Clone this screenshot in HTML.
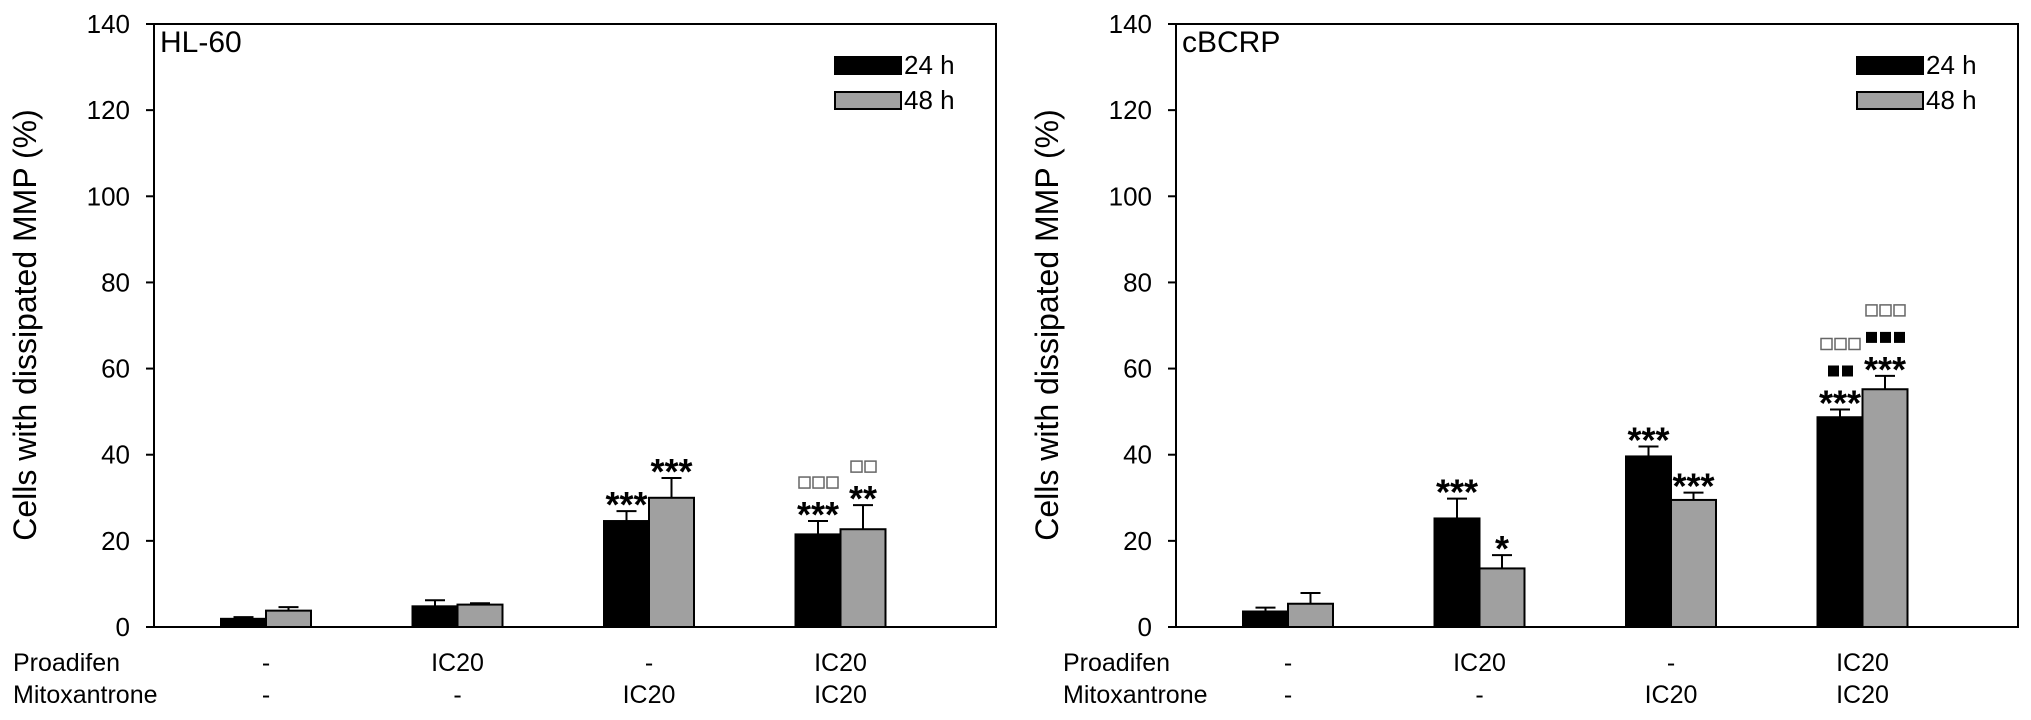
<!DOCTYPE html>
<html><head><meta charset="utf-8"><style>
html,body{margin:0;padding:0;background:#fff;}
svg text{font-family:"Liberation Sans",Arial,sans-serif;fill:#000;}
</style></head><body>
<svg id="fig" width="2031" height="715" viewBox="0 0 2031 715" xmlns="http://www.w3.org/2000/svg"></svg>
<script>
const categories = ["ctrl","proadifen","mitoxantrone","combo"];
const proadifenLabels = ["-","IC20","-","IC20"];
const mitoxLabels = ["-","-","IC20","IC20"];
const yTicks = [0,20,40,60,80,100,120,140];
const hl60_24 = [1.9,4.8,24.6,21.5];
const hl60_24err = [0.4,1.4,2.3,3.1];
const hl60_48 = [3.8,5.2,30.0,22.7];
const hl60_48err = [0.8,0.3,4.6,5.6];
const cbcrp_24 = [3.6,25.2,39.6,48.7];
const cbcrp_24err = [0.9,4.6,2.3,1.8];
const cbcrp_48 = [5.4,13.6,29.5,55.2];
const cbcrp_48err = [2.5,3.1,1.7,3.1];
const hl60_24stars = ["","","***","***"];
const hl60_48stars = ["","","***","**"];
const cbcrp_24stars = ["","***","***","***"];
const cbcrp_48stars = ["","*","***","***"];
// [filled squares count, hollow squares count]
const hl60_24sq = [[0,0],[0,0],[0,0],[0,3]];
const hl60_48sq = [[0,0],[0,0],[0,0],[0,2]];
const cbcrp_24sq = [[0,0],[0,0],[0,0],[2,3]];
const cbcrp_48sq = [[0,0],[0,0],[0,0],[3,3]];

const NS="http://www.w3.org/2000/svg";
const svg=document.getElementById('fig');
function mk(tag,attrs,parent){const e=document.createElementNS(NS,tag);for(const k in attrs)e.setAttribute(k,attrs[k]);(parent||svg).appendChild(e);return e;}

function drawPanel(o){
  const g=mk('g',{});
  
  
  const ax=o.ax, right=ax+842, y0=627, top=24;
  const yS=v=>y0-(v/140)*(y0-top);
  const xC=i=>ax+112+i*191.5;
  const bw=45;
  const frame=mk('rect',{x:ax,y:top,width:right-ax,height:y0-top,fill:'none',stroke:'#000','stroke-width':2},g);
  
  
  yTicks.forEach(t=>{
    const y=yS(t);
    const tk=mk('line',{x1:ax-8,x2:ax,y1:y,y2:y,stroke:'#000','stroke-width':2},g);
    
    
    const tl=mk('text',{x:ax-24,y:y+9,'text-anchor':'end','font-size':26},g);
    tl.textContent=t;
    
    
  });
  const yt=mk('text',{x:0,y:0,'text-anchor':'middle','font-size':32,transform:`translate(${o.titleX},325) rotate(-90)`},g);
  yt.textContent='Cells with dissipated MMP (%)';
  
  
  const pt=mk('text',{x:ax+6,y:52,'font-size':30},g);
  pt.textContent=o.title;
  
  
  [['#000','24 h',57],['#a0a0a0','48 h',92]].forEach(l=>{
    const sw=mk('rect',{x:right-161,y:l[2],width:66,height:17,fill:l[0],stroke:'#000','stroke-width':2},g);
    
    
    const lt=mk('text',{x:right-92,y:l[2]+17,'font-size':26},g);
    lt.textContent=l[1];
    
    
  });
  const series=[[o.s24,o.e24,'#000',-1,o.st24,o.sq24],[o.s48,o.e48,'#a0a0a0',0,o.st48,o.sq48]];
  categories.forEach((c,i)=>{
    series.forEach(s=>{
      const v=s[0][i], e=s[1][i];
      const x=xC(i)+s[3]*bw;
      const yv=yS(v), ye=yS(v+e), cx=x+bw/2;
      const b=mk('rect',{x:x,y:yv,width:bw,height:y0-yv,fill:s[2],stroke:'#000','stroke-width':2},g);
      
      
      const el=mk('path',{d:`M${cx},${yv}V${ye}M${cx-10},${ye}H${cx+10}`,stroke:'#000','stroke-width':2,fill:'none'},g);
      
      
      let yy=ye-14;
      if(s[4][i]){
        const st=mk('text',{x:cx,y:yy+20,'text-anchor':'middle','font-size':36,'font-weight':'bold'},g);
        st.textContent=s[4][i];
        
        
        yy-=24;
      }
      const [nf,nh]=s[5][i];
      if(nf){
        for(let k=0;k<nf;k++){
          const r=mk('rect',{x:cx-(nf*14-4)/2+k*14,y:yy-6,width:11,height:11,fill:'#000'},g);
          
          
        }
        yy-=27;
      }
      if(nh){
        for(let k=0;k<nh;k++){
          const r=mk('rect',{x:cx-(nh*14-4)/2+k*14,y:yy-6,width:11,height:11,fill:'none',stroke:'#666','stroke-width':1.5},g);
          
          
        }
      }
    });
    const l1=mk('text',{x:xC(i),y:671,'text-anchor':'middle','font-size':25},g);
    l1.textContent=proadifenLabels[i];
    
    
    const l2=mk('text',{x:xC(i),y:703,'text-anchor':'middle','font-size':25},g);
    l2.textContent=mitoxLabels[i];
    
    
  });
  const r1=mk('text',{x:o.rowX,y:671,'font-size':25},g);
  r1.textContent='Proadifen';
  
  
  const r2=mk('text',{x:o.rowX,y:703,'font-size':25},g);
  r2.textContent='Mitoxantrone';
  
  
}
drawPanel({name:'hl60',ax:154,title:'HL-60',titleX:36,rowX:13,s24:hl60_24,e24:hl60_24err,s48:hl60_48,e48:hl60_48err,st24:hl60_24stars,st48:hl60_48stars,sq24:hl60_24sq,sq48:hl60_48sq});
drawPanel({name:'cbcrp',ax:1176,title:'cBCRP',titleX:1058,rowX:1063,s24:cbcrp_24,e24:cbcrp_24err,s48:cbcrp_48,e48:cbcrp_48err,st24:cbcrp_24stars,st48:cbcrp_48stars,sq24:cbcrp_24sq,sq48:cbcrp_48sq});
</script>
</body></html>
